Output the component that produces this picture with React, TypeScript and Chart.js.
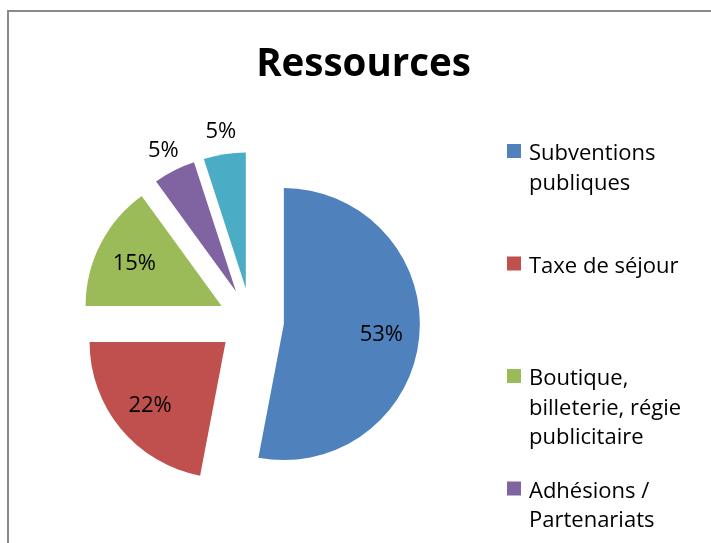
import React, { useEffect, useRef } from 'react';
import { Chart, ArcElement, PieController, registerables } from 'chart.js';

// ---- data ----
const chartTitle = 'Ressources';
const categories: string[][] = [
  ['Subventions', 'publiques'],
  ['Taxe de séjour'],
  ['Boutique,', 'billeterie, régie', 'publicitaire'],
  ['Adhésions /', 'Partenariats'],
  ['Autres'],
];
const shares = [53, 22, 15, 5, 5];
const colors = ['#4F81BD', '#C0504D', '#9BBB59', '#8064A2', '#4BACC6'];

// ---- style constants ----
const W = 711;
const H = 543;
const FONT = '"Open Sans", Lato, "DejaVu Sans", sans-serif';
const EXPLODE = 33;
const RADIUS = 136;

class ExplodedArc extends ArcElement {
  static id = 'explodedArc';
  draw(ctx: CanvasRenderingContext2D) {
    const { x, y, startAngle, endAngle, outerRadius } = this as any;
    const opts: any = this.options;
    const d = opts.offset || 0;
    const mid = (startAngle + endAngle) / 2;
    const cx = x + Math.cos(mid) * d;
    const cy = y + Math.sin(mid) * d;
    ctx.save();
    ctx.beginPath();
    ctx.moveTo(cx, cy);
    ctx.arc(cx, cy, outerRadius, startAngle, endAngle);
    ctx.closePath();
    ctx.fillStyle = opts.backgroundColor;
    ctx.fill();
    ctx.restore();
  }
}

class ExplodedPie extends PieController {
  static id = 'explodedPie';
  static defaults = { ...(PieController as any).defaults, dataElementType: 'explodedArc' };
}

Chart.register(...registerables, ExplodedArc as any, ExplodedPie as any);

const framePlugin = {
  id: 'frame',
  beforeDraw(chart: any) {
    const ctx = chart.ctx;
    ctx.save();
    ctx.fillStyle = '#ffffff';
    ctx.fillRect(0, 0, W, H);
    ctx.strokeStyle = '#8a8a8a';
    ctx.lineWidth = 2;
    ctx.beginPath();
    ctx.moveTo(8, H + 10);
    ctx.lineTo(8, 11);
    ctx.lineTo(W + 10, 11);
    ctx.stroke();
    ctx.restore();
  },
};

const textPlugin = {
  id: 'texts',
  afterDraw(chart: any) {
    const ctx = chart.ctx;
    ctx.save();
    // title
    ctx.fillStyle = '#000';
    ctx.font = `bold 38.5px ${FONT}`;
    ctx.textAlign = 'center';
    ctx.textBaseline = 'alphabetic';
    ctx.fillText(chartTitle, 363.5, 76);

    // slice labels
    const meta = chart.getDatasetMeta(0);
    const values = chart.data.datasets[0].data as number[];
    const total = values.reduce((a, b) => a + b, 0);
    ctx.font = `22px ${FONT}`;
    meta.data.forEach((arc: any, i: number) => {
      const { x, y, startAngle, endAngle, outerRadius } = arc;
      const mid = (startAngle + endAngle) / 2;
      const pct = values[i] / total;
      const dist = pct >= 0.1 ? EXPLODE + outerRadius * 0.72 : EXPLODE + outerRadius + 24;
      const lx = x + Math.cos(mid) * dist;
      const ly = y + Math.sin(mid) * dist;
      ctx.fillText(Math.round(pct * 100) + '%', lx, ly + 8);
    });

    // legend
    ctx.textAlign = 'left';
    ctx.font = `22px ${FONT}`;
    const items = chart.data.labels as string[][];
    const bg = chart.data.datasets[0].backgroundColor as string[];
    const firstBase = 160;
    const step = 112.5;
    const lineH = 29.5;
    items.forEach((lines, i) => {
      const base = firstBase + i * step;
      ctx.fillStyle = bg[i];
      ctx.fillRect(507, base - 16, 14, 14);
      ctx.fillStyle = '#000';
      lines.forEach((ln, j) => ctx.fillText(ln, 529, base + j * lineH));
    });
    ctx.restore();
  },
};

export default function App() {
  const ref = useRef<HTMLCanvasElement>(null);
  useEffect(() => {
    if (!ref.current) return;
    const chart = new Chart(ref.current, {
      type: 'explodedPie' as any,
      data: {
        labels: categories as any,
        datasets: [
          {
            data: shares,
            backgroundColor: colors,
            borderWidth: 0,
            offset: EXPLODE,
            hoverOffset: 0,
            radius: RADIUS,
          } as any,
        ],
      },
      options: {
        animation: false,
        responsive: false,
        events: [],
        layout: { padding: { left: 0, right: 209, top: 99, bottom: 0 } },
        plugins: {
          legend: { display: false },
          title: { display: false },
          tooltip: { enabled: false },
        },
      } as any,
      plugins: [framePlugin, textPlugin],
    });
    return () => chart.destroy();
  }, []);
  return (
    <div style={{ position: 'absolute', left: 0, top: 0, width: W, height: H, overflow: 'hidden' }}>
      <canvas ref={ref} width={W} height={H} style={{ display: 'block' }} />
    </div>
  );
}
